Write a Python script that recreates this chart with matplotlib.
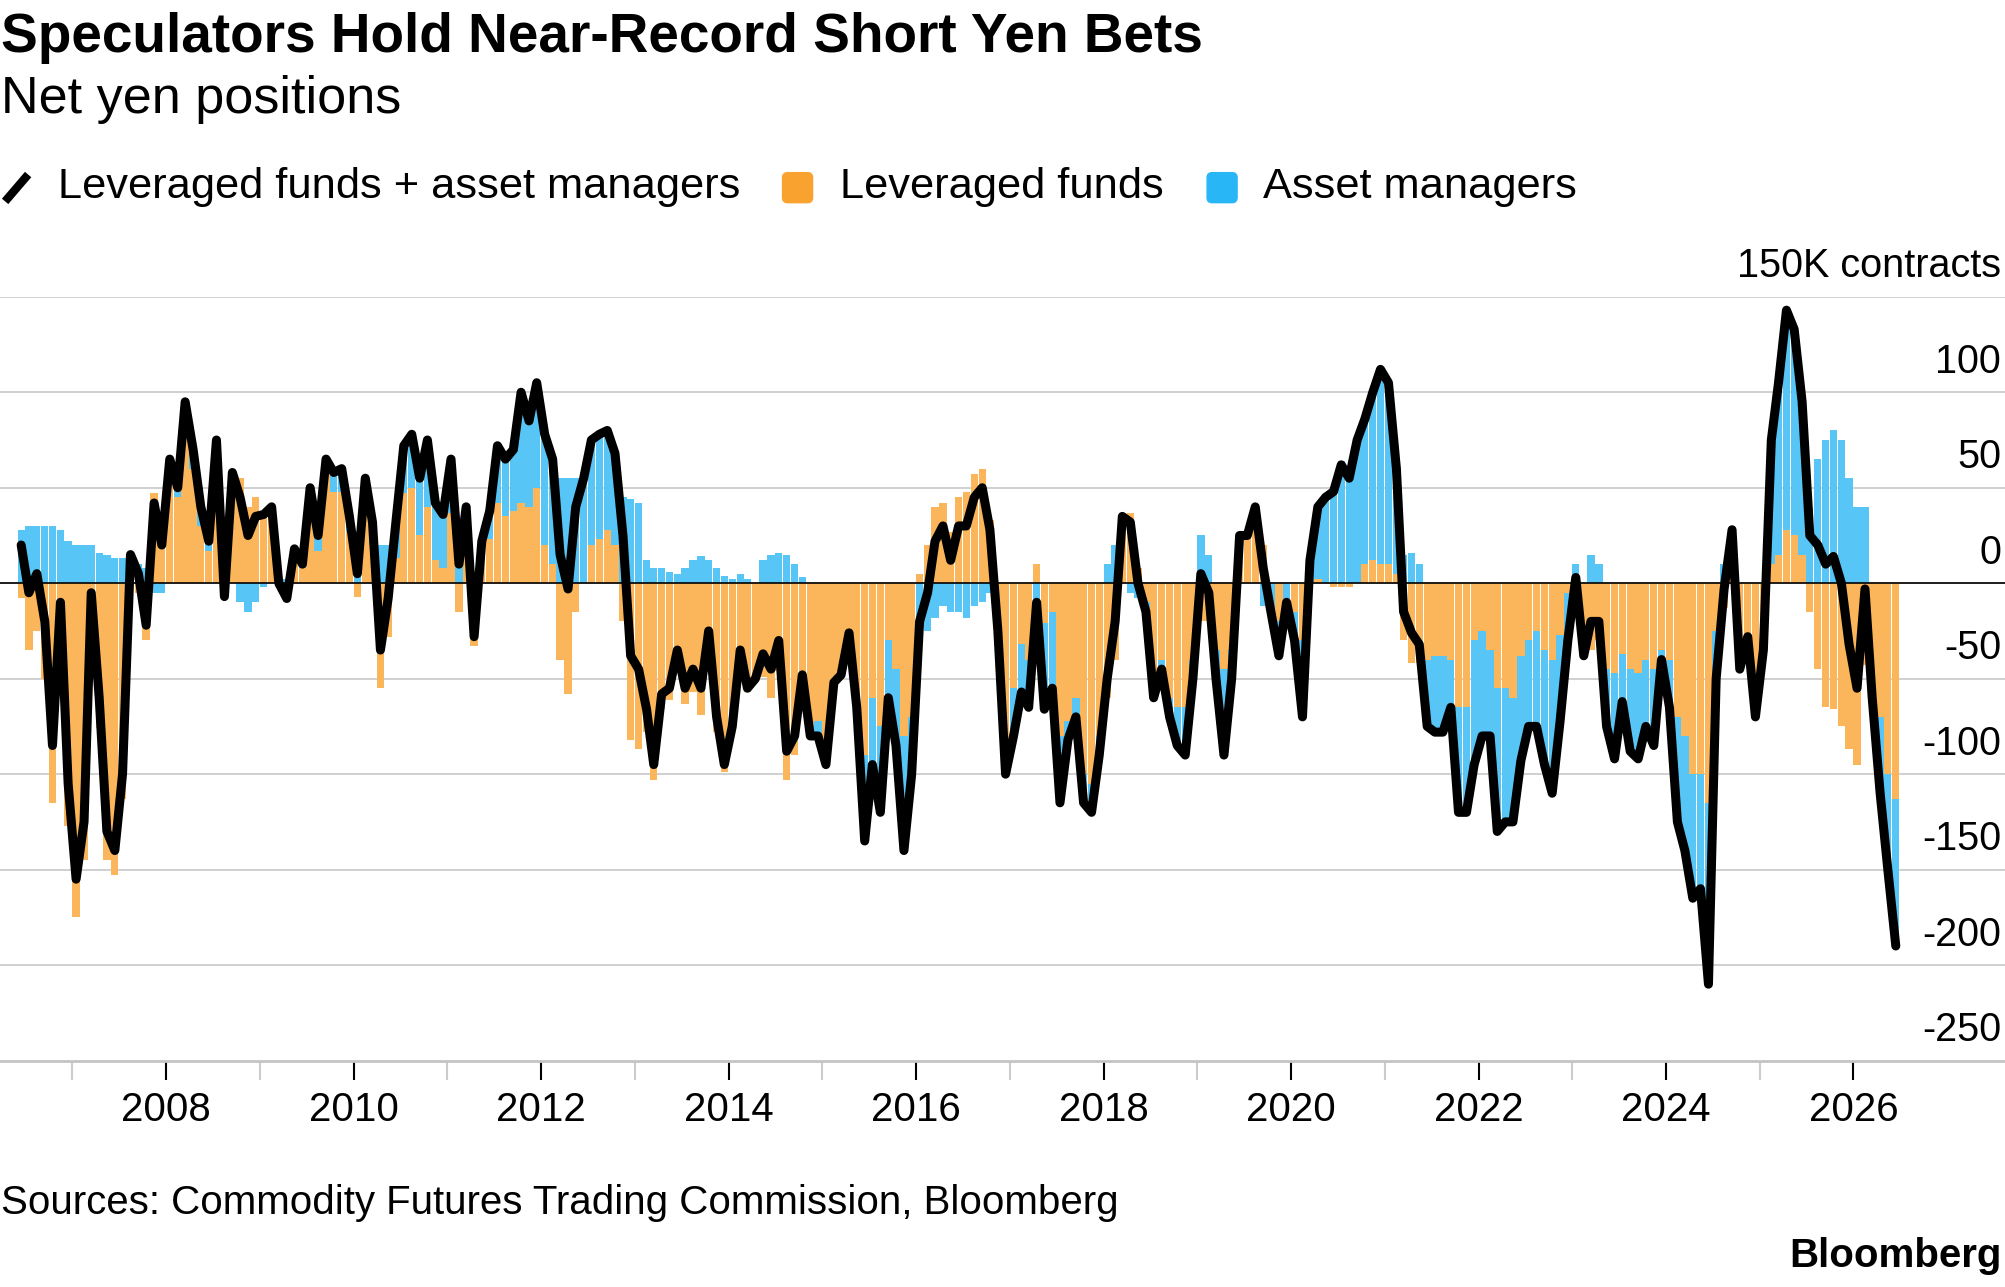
import datetime as dt
import numpy as np
import pandas as pd
import matplotlib
matplotlib.use('Agg')
from matplotlib import pyplot as plt
from matplotlib.lines import Line2D
from matplotlib.patches import FancyBboxPatch

# net yen positions, thousand contracts, one value per month (Jun 2006 - Jun 2026)
lev = [
    -8, -35, -25, -50, -115, -38, -127,                         # 2006
    -175, -145, -25, -76, -145, -153, -113, 3, -5, -30, 47, 25,  # 2007
    65, 45, 85, 60, 30, 17, 67, -4, 53, 55, 40, 45,             # 2008
    38, 38, -2, -10, 15, 8, 42, 17, 57, 48, 48, 27,             # 2009
    -7, 40, 20, -55, -28, 13, 47, 50, 25, 40, 12, 8,            # 2010
    37, -15, 25, -33, 14, 23, 42, 35, 38, 42, 40, 50,           # 2011
    20, 10, -40, -58, -15, 0, 20, 23, 28, 20, -20, -82,         # 2012
    -87, -78, -103, -66, -61, -40, -63, -57, -69, -37, -78, -99,  # 2013
    -77, -40, -57, -50, -49, -60, -46, -103, -90, -51, -75, -72,  # 2014
    -92, -52, -48, -26, -65, -90, -60, -75, -30, -45, -80, -70,   # 2015
    5, 20, 40, 42, 27, 45, 48, 57, 60, 33, -25, -90,            # 2016
    -55, -32, -40, 10, -21, -15, -80, -72, -60, -100, -105, -80,  # 2017
    -60, -40, 30, 37, 8, -10, -55, -40, -60, -65, -65, -40,     # 2018
    -20, -20, -35, -45, -35, 25, 25, 40, 20, 0, -20, 0,         # 2019
    -15, -30, 0, 2, 0, -2, -2, -2, 0, 10, 12, 10,               # 2020
    10, 5, -30, -42, -42, -40, -38, -38, -40, -65, -65, -30,    # 2021
    -25, -35, -55, -55, -60, -38, -30, -25, -35, -40, -27, -5,  # 2022
    -7, -33, -35, -30, -45, -47, -37, -45, -47, -40, -45, -35,  # 2023
    -40, -70, -80, -100, -100, -115, -25, -13, 8, -45, -28, -65,  # 2024
    -35, 10, 15, 28, 25, 15, -15, -45, -65, -66, -75, -87,      # 2025
    -95, -43, -55, -70, -100, -113,                             # 2026
]
asset = [
    28, 30, 30, 30, 30, 28, 22,
    20, 20, 20, 16, 15, 13, 13, 12, 10, 8, -5, -5,
    0, 5, 10, 10, 10, 5, 8, -3, 5, -10, -15, -10,
    -2, 2, 2, 2, 3, 2, 8, 8, 8, 10, 12, 8,
    12, 15, 12, 20, 20, 20, 25, 28, 30, 35, 30, 28,
    28, 25, 15, 5, 8, 15, 30, 30, 32, 58, 45, 55,
    58, 55, 55, 55, 55, 55, 55, 55, 52, 48, 45, 44,
    42, 12, 8, 8, 6, 5, 8, 12, 14, 12, 8, 4,
    2, 5, 2, 0, 12, 15, 16, 15, 10, 3, -5, -8,
    -3, 0, 0, 0, 0, -45, -35, -45, -30, -40, -60, -30,
    -25, -25, -18, -12, -15, -15, -18, -12, -10, -5, 0, -10,
    -25, -25, -25, -20, -45, -40, -35, -10, -10, -15, -15, -10,
    10, 20, 5, -5, -8, -5, -5, -5, -10, -20, -25, -10,
    25, 15, -15, -45, -15, 0, 0, 0, -12, -15, -18, -10,
    -15, -40, 12, 38, 45, 50, 64, 57, 75, 76, 88, 102,
    95, 55, 15, 16, 10, -35, -40, -40, -25, -55, -55, -65,
    -55, -45, -75, -70, -65, -55, -45, -50, -60, -70, -45, -25,
    10, -5, 15, 10, -30, -45, -25, -43, -45, -35, -40, -5,
    -25, -55, -60, -65, -60, -95, -25, 10, 20, 0, 0, -5,
    0, 65, 90, 115, 108, 80, 40, 65, 75, 80, 75, 55,
    40, 40, -5, -40, -50, -77,
]
months = pd.date_range('2006-06-01', periods=len(lev), freq='MS') + pd.Timedelta(days=14)

yticks = [-250, -200, -150, -100, -50, 0, 50, 100, 150]
ylabels = ['-250', '-200', '-150', '-100', '-50', '0', '50', '100', '150K contracts']
major_years = list(range(2008, 2027, 2))
minor_years = list(range(2007, 2026, 2))

ORANGE = '#f9a22f'
BLUE = '#29b6f6'
ORANGE_BAR = '#fbb55a'
BLUE_BAR = '#57c5f6'

plt.rcParams['font.family'] = ['Liberation Sans', 'DejaVu Sans']


def year_to_date(y):
    yr = int(y)
    start = dt.datetime(yr, 1, 1)
    return start + (dt.datetime(yr + 1, 1, 1) - start) * (y - yr)


def px(x, y):
    # position measured on the 1568x1006 preview -> inches on the figure
    return x * 1.2787 / 100, (1006 - y) * 1.2787 / 100


lev_a = np.array(lev, dtype=float)
asset_a = np.array(asset, dtype=float)
total = lev_a + asset_a
blue_bottom = np.where(np.sign(asset_a) == np.sign(lev_a), lev_a, 0)

fig = plt.figure(figsize=(20.05, 12.87), dpi=100)
ax = fig.add_axes([0, 1 - 829 / 1006, 1, (829 - 232) / 1006])

for v in yticks[1:]:
    ax.axhline(v, color='#d0d0d0', lw=1.4, zorder=0)

ax.bar(months, lev_a, width=28.5, color=ORANGE_BAR, linewidth=0, zorder=2)
ax.bar(months, asset_a, bottom=blue_bottom, width=28.5, color=BLUE_BAR, linewidth=0, zorder=2)
ax.axhline(0, color='black', lw=1.2, zorder=3)
ax.plot(months, total, color='black', lw=6.5, solid_joinstyle='round',
        solid_capstyle='round', zorder=5)

ax.set_ylim(-250, 150)
ax.set_xlim(year_to_date(2006.226), year_to_date(2027.618))

for spine in ['top', 'left', 'right']:
    ax.spines[spine].set_visible(False)
ax.spines['bottom'].set_color('#c4c4c4')
ax.spines['bottom'].set_linewidth(2)

ax.set_yticks([])
ax.set_xticks([year_to_date(y) for y in major_years])
ax.set_xticklabels([str(y) for y in major_years])
ax.set_xticks([year_to_date(y) for y in minor_years], minor=True)
ax.tick_params(axis='x', which='major', length=14, width=1.5, color='black',
               labelsize=29, pad=8)
ax.tick_params(axis='x', which='minor', length=14, width=1.5, color='#cccccc')

for v, lbl in zip(yticks, ylabels):
    ax.annotate(lbl, xy=(0.998, v), xycoords=ax.get_yaxis_transform(),
                xytext=(0, 14), textcoords='offset points',
                ha='right', va='baseline', fontsize=28.5)

# title block
fig.text(*px(1, 40), 'Speculators Hold Near-Record Short Yen Bets', transform=fig.dpi_scale_trans,
         fontsize=39.6, fontweight='bold', va='baseline')
fig.text(*px(1, 88), 'Net yen positions', transform=fig.dpi_scale_trans,
         fontsize=37.5, va='baseline')

# legend
x0, y0 = px(4, 157)
x1, y1 = px(22, 136)
fig.add_artist(Line2D([x0, x1], [y0, y1], color='black', lw=6,
                      solid_capstyle='butt', transform=fig.dpi_scale_trans))
for left, color in [(612, ORANGE), (944, BLUE)]:
    bx, by = px(left, 158)
    fig.add_artist(FancyBboxPatch((bx, by), 0.30, 0.30,
                                  boxstyle='round,pad=0,rounding_size=0.05',
                                  color=color, transform=fig.dpi_scale_trans))
for left, lbl in [(45, 'Leveraged funds + asset managers'), (657, 'Leveraged funds'),
                  (988, 'Asset managers')]:
    fig.text(*px(left, 146), lbl, transform=fig.dpi_scale_trans,
             fontsize=31.2, va='center')

fig.text(*px(1, 940), 'Sources: Commodity Futures Trading Commission, Bloomberg',
         transform=fig.dpi_scale_trans, fontsize=29, va='center')
fig.text(*px(1565, 982), 'Bloomberg', transform=fig.dpi_scale_trans,
         fontsize=29, fontweight='bold', ha='right', va='center')

fig.savefig('out.png', dpi=100)
